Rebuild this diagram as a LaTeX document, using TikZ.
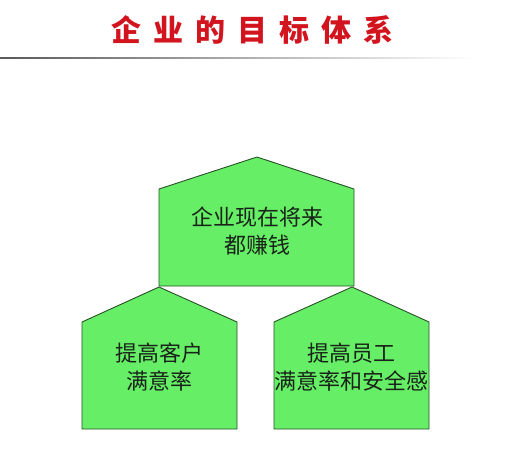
\documentclass[tikz,border=0pt]{standalone}
\usepackage{fontspec}
\newfontfamily\cjk{Noto Sans CJK SC}
\definecolor{boxfill}{RGB}{102,238,102}
\definecolor{boxline}{RGB}{40,80,40}
\definecolor{titlered}{RGB}{210,20,30}
\definecolor{txt}{RGB}{25,35,25}
\tikzset{
  house/.style={fill=boxfill, draw=boxline, line width=0.9pt, line join=miter},
  label/.style={align=center, text=txt, font=\cjk\fontsize{22}{28}\selectfont, inner sep=0pt},
}
\begin{document}
\begin{tikzpicture}[x=1pt,y=-1pt]
\useasboundingbox (0,0) rectangle (509,464);
\fill[white] (0,0) rectangle (509,464);
% title
\node[text=titlered, font=\cjk\bfseries\fontsize{30}{30}\selectfont, inner sep=0pt] (title) at (252,30)
  {企\hspace{12pt}业\hspace{12pt}的\hspace{12pt}目\hspace{12pt}标\hspace{12pt}体\hspace{12pt}系};
\shade[left color=black!65, right color=white] (0,57.2) rectangle (475,58.8);
% houses
\draw[house] (159,286) -- (159,189) -- (257,157) -- (354,189) -- (354,286) -- cycle;
\draw[house] (82,429) -- (82,322) -- (159,287) -- (237,322) -- (237,429) -- cycle;
\draw[house] (274,429) -- (274,322) -- (352,287) -- (429,322) -- (429,429) -- cycle;
\node[label] (top) at (257,231) {企业现在将来\\都赚钱};
\node[label] (left) at (159,367) {提高客户\\满意率};
\node[label] (right) at (351,367) {提高员工\\满意率和安全感};
\end{tikzpicture}
\end{document}
